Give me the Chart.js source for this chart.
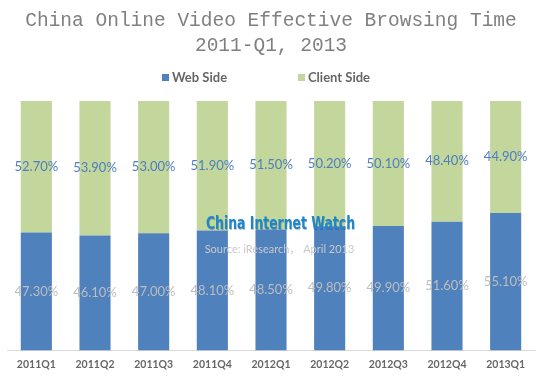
<!DOCTYPE html>
<html>
<head>
<meta charset="utf-8">
<script src="https://cdn.jsdelivr.net/npm/chart.js@4.4.1/dist/chart.umd.min.js"></script>
<style>
  html, body { margin: 0; padding: 0; background: #ffffff; }
  #wrap { width: 550px; height: 383px; }
</style>
</head>
<body>
<div id="wrap"><canvas id="c" width="550" height="383"></canvas></div>
<script>
const categories = ['2011Q1','2011Q2','2011Q3','2011Q4','2012Q1','2012Q2','2012Q3','2012Q4','2013Q1'];
const webSide = [47.30, 46.10, 47.00, 48.10, 48.50, 49.80, 49.90, 51.60, 55.10];
const clientSide = [52.70, 53.90, 53.00, 51.90, 51.50, 50.20, 50.10, 48.40, 44.90];
const seriesNames = ['Web Side', 'Client Side'];
const titleLines = ['China Online Video Effective Browsing Time', '2011-Q1, 2013'];
const watermark = 'China Internet Watch';
const sourceNote = 'Source: iResearch， April 2013';

const BLUE = '#4F81BD';
const GREEN = '#C3D69B';

const overlayPlugin = {
  id: 'overlay',
  afterDatasetsDraw(chart) {
    const ctx = chart.ctx;
    // legend
    ctx.save();
    ctx.font = 'bold 13px Lato';
    ctx.textBaseline = 'middle';
    ctx.textAlign = 'left';
    const legendY = 78;
    const items = [
      {x: 162, color: BLUE, text: seriesNames[0]},
      {x: 298, color: GREEN, text: seriesNames[1]}
    ];
    items.forEach(it => {
      ctx.fillStyle = it.color;
      ctx.fillRect(it.x, legendY - 4, 7, 7);
      ctx.fillStyle = '#666666';
      ctx.fillText(it.text, it.x + 10, legendY);
    });
    ctx.restore();

    // watermark
    ctx.save();
    ctx.font = 'bold 17px "DejaVu Sans"';
    ctx.textBaseline = 'middle';
    ctx.textAlign = 'center';
    const w = ctx.measureText(watermark).width;
    const target = 149;
    ctx.translate(280.5, 225);
    ctx.scale(target / w, 1);
    ctx.fillStyle = 'rgba(10,60,110,0.3)';
    ctx.fillText(watermark, 0.8, 0.8);
    ctx.fillStyle = '#2186C8';
    ctx.fillText(watermark, 0, 0);
    ctx.restore();

    ctx.save();
    ctx.font = '11px Lato, "Noto Sans CJK SC"';
    ctx.textBaseline = 'middle';
    ctx.textAlign = 'center';
    ctx.fillStyle = '#c9c9c9';
    ctx.fillText(sourceNote, 279.5, 249);
    ctx.restore();

    // data labels
    ctx.save();
    ctx.font = '13px Lato';
    ctx.textAlign = 'center';
    ctx.textBaseline = 'middle';
    chart.data.datasets.forEach((ds, di) => {
      const meta = chart.getDatasetMeta(di);
      meta.data.forEach((bar, i) => {
        const p = bar.getProps(['x', 'y', 'base'], true);
        const cy = (p.y + p.base) / 2;
        ctx.fillStyle = di === 0 ? '#bdbdbd' : '#4E7EC0';
        ctx.fillText(ds.data[i].toFixed(2) + '%', p.x, cy);
      });
    });
    ctx.restore();
  }
};

new Chart(document.getElementById('c'), {
  type: 'bar',
  data: {
    labels: categories,
    datasets: [
      { label: seriesNames[0], data: webSide, backgroundColor: BLUE, barPercentage: 0.53, categoryPercentage: 1 },
      { label: seriesNames[1], data: clientSide, backgroundColor: GREEN, barPercentage: 0.53, categoryPercentage: 1 }
    ]
  },
  options: {
    responsive: false,
    animation: false,
    layout: { padding: { left: 7, right: 15, top: 0, bottom: 4 } },
    plugins: {
      legend: { display: false },
      tooltip: { enabled: false },
      title: {
        display: true,
        text: titleLines,
        color: '#808080',
        font: { family: '"Liberation Mono"', size: 19.5, weight: 'normal', lineHeight: 1.28 },
        padding: { top: 8, bottom: 43 }
      }
    },
    scales: {
      x: {
        stacked: true,
        grid: { display: false, drawTicks: false },
        border: { display: true, color: '#d9d9d9', width: 1 },
        ticks: { color: '#666666', padding: 8, font: { family: 'Lato', size: 10.5, weight: 'bold' } }
      },
      y: {
        stacked: true,
        display: false,
        min: 0,
        max: 100
      }
    }
  },
  plugins: [overlayPlugin]
});
</script>
</body>
</html>
